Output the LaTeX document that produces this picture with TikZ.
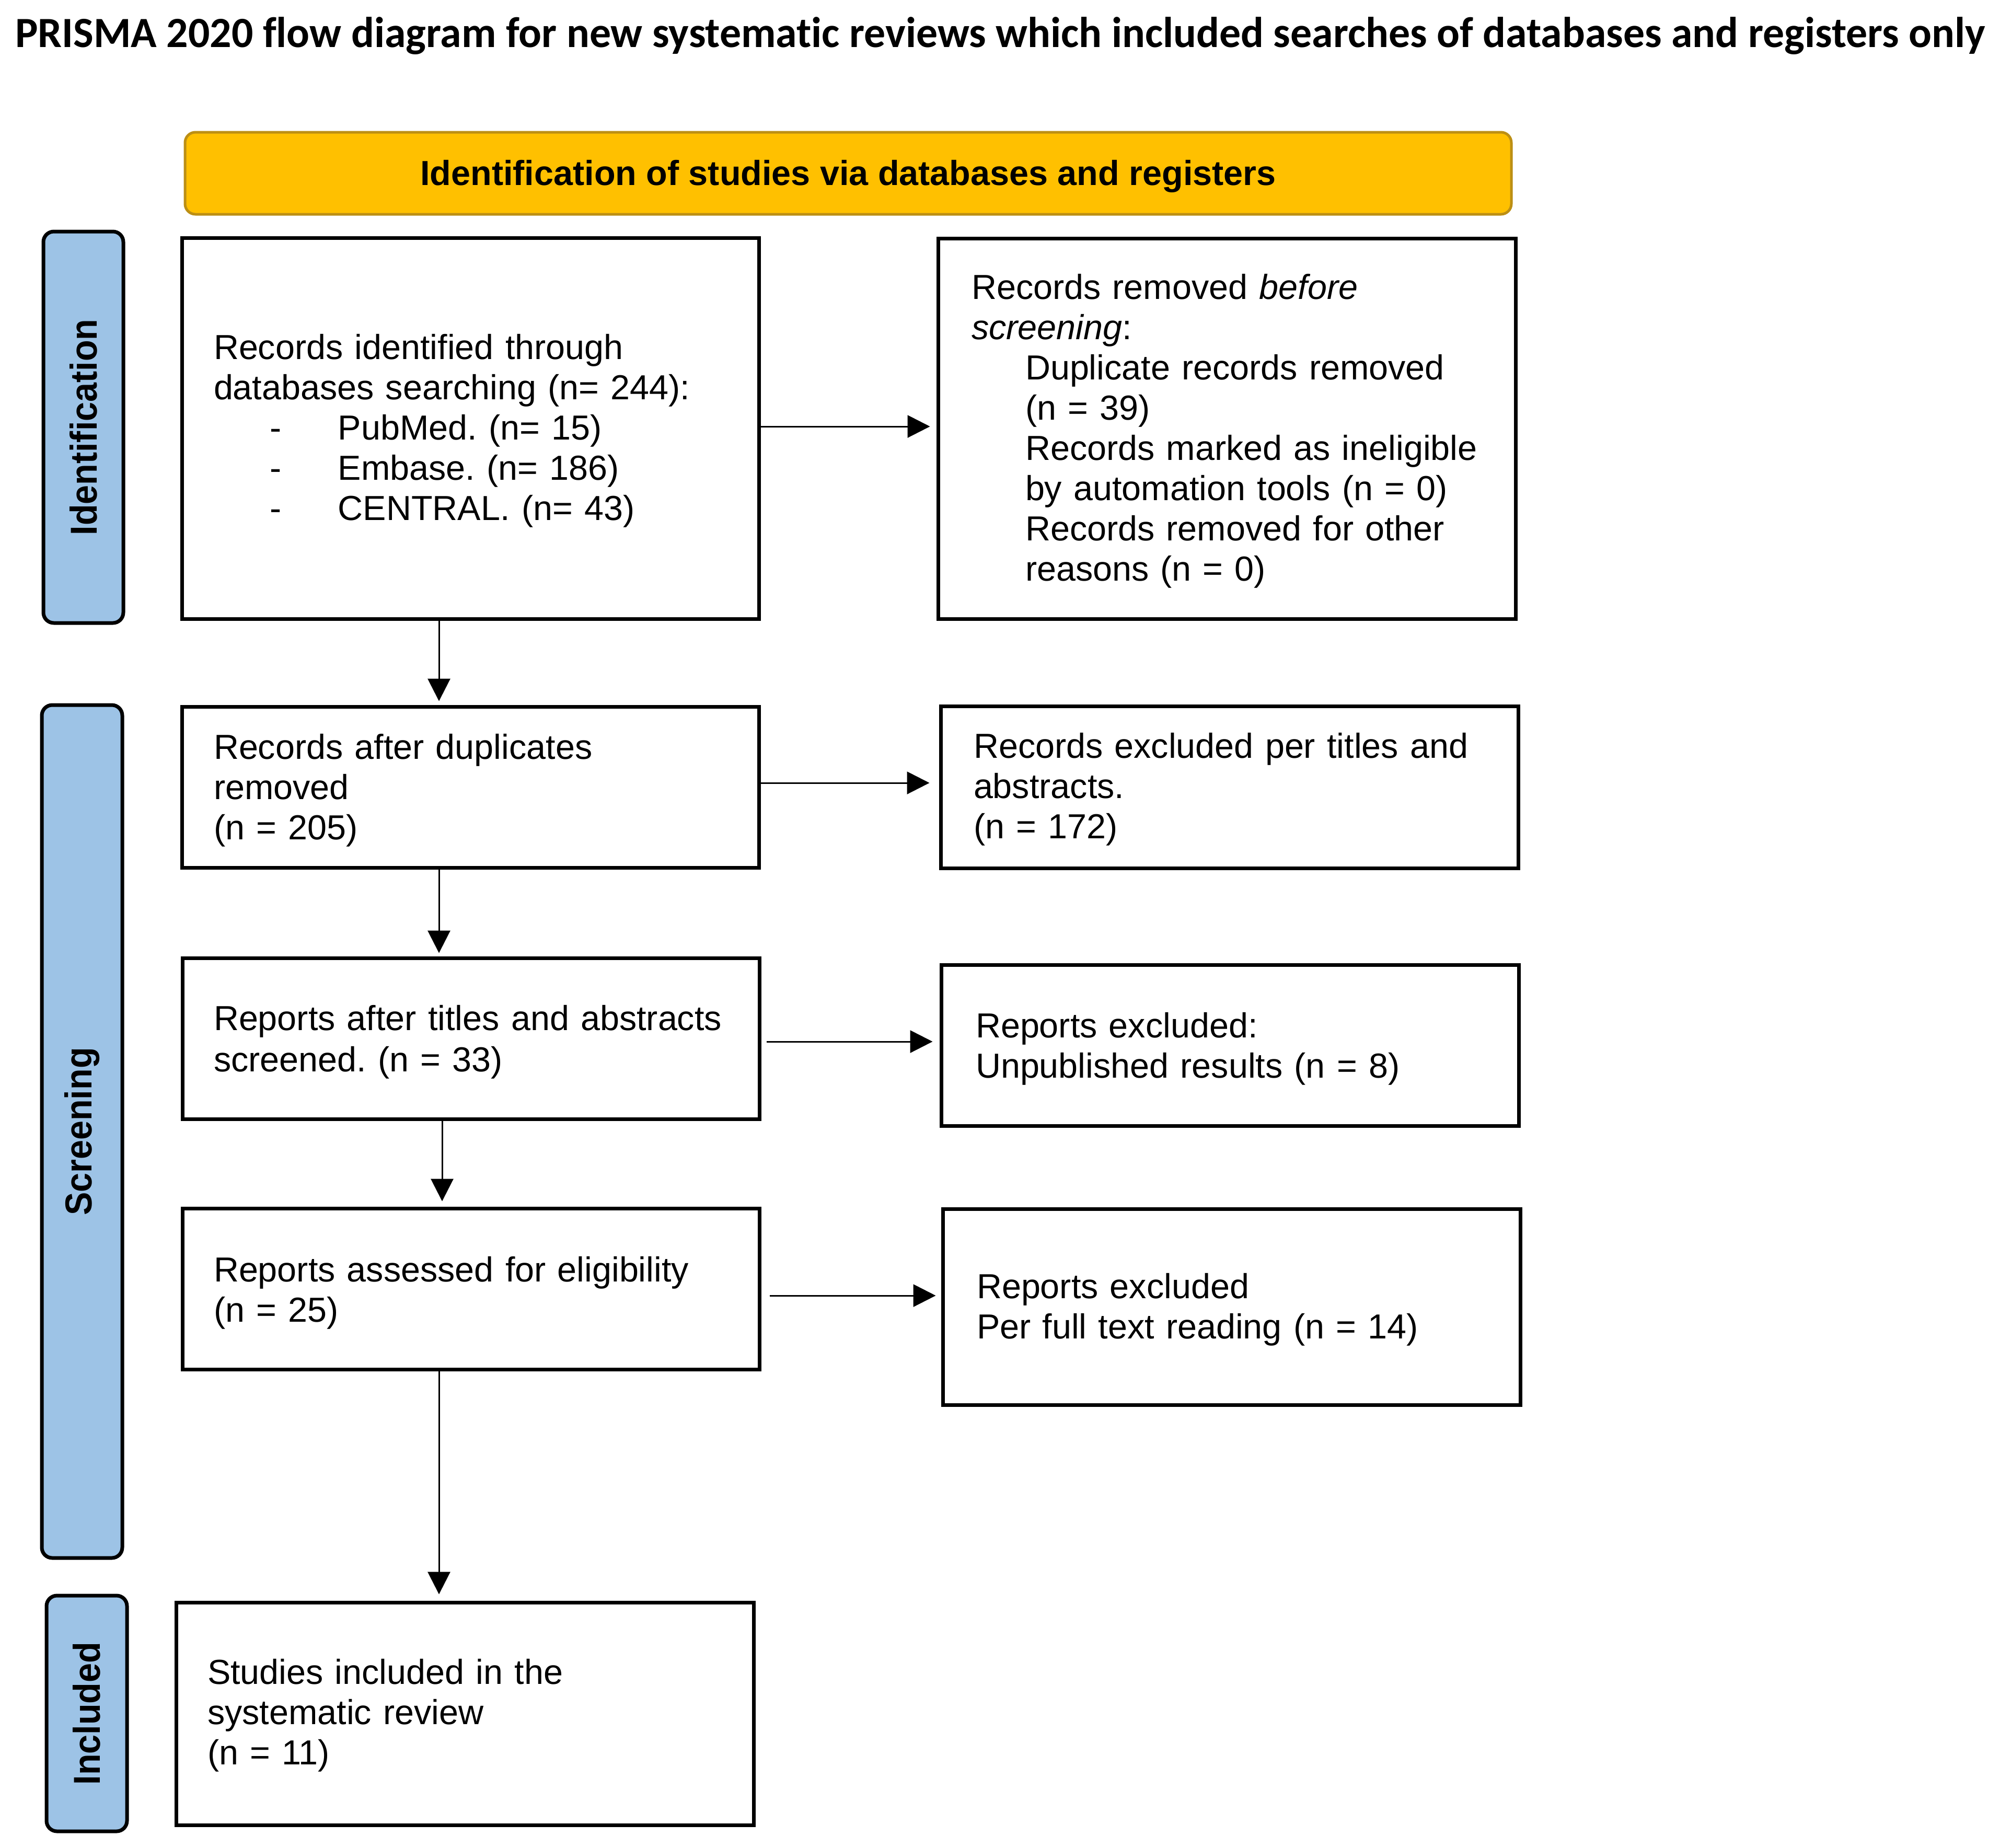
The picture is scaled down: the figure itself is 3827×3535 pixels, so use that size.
\documentclass[tikz,border=0pt]{standalone}
\usepackage{fontspec}
\usepackage{graphicx}
\setmainfont{Liberation Sans}[Ligatures={NoCommon}]
\newfontfamily\titlefont{Carlito}[Ligatures={NoCommon}]
\usetikzlibrary{arrows.meta,calc,fit}
\definecolor{hdrfill}{RGB}{255,192,0}
\definecolor{hdrdraw}{RGB}{188,143,20}
\definecolor{barfill}{RGB}{157,195,230}
\frenchspacing
\begin{document}
\frenchspacing
\begin{tikzpicture}[x=0.2pt,y=-0.2pt,
  box/.style={draw=black,line width=1.4pt,inner sep=0pt,fill=white},
  bar/.style={draw=black,line width=1.4pt,fill=barfill,inner sep=0pt,rounded corners=4pt},
  hdr/.style={draw=hdrdraw,line width=1pt,fill=hdrfill,inner sep=0pt,rounded corners=4pt},
  txt/.style={anchor=base west,inner sep=0pt,align=left,text width=300pt,font=\fontsize{13.3}{15.4}\selectfont\frenchspacing},
  lbl/.style={rotate=90,inner sep=0pt,anchor=center,font=\fontsize{13.3}{15}\selectfont\bfseries},
  arr/.style={line width=0.6pt,-{Triangle[length=8.6pt,width=8.6pt]}},
]
\useasboundingbox (0,0) rectangle (3827,3535);

% title
\node[anchor=base west,inner sep=0pt] (title) at (28,90)
  {\resizebox{754pt}{\height}{\titlefont\bfseries\fontsize{16.5}{18}\selectfont PRISMA 2020 flow diagram for new systematic reviews which included searches of databases and registers only}};

% header
\node[hdr,fit={(354,253) (2892,410)}] (hdr) {};
\node[anchor=base,inner sep=0pt,font=\fontsize{13.3}{15}\selectfont\bfseries] (hdrtxt) at ([yshift=-4.5pt]hdr.center) {Identification of studies via databases and registers};

% side bars
\node[bar,fit={(83,443) (236,1192)}] (barid) {};
\node[lbl] (lblid) at (barid.center) {\scalebox{1}[1.08]{Identification}};
\node[bar,fit={(80,1349) (234,2981)}] (barsc) {};
\node[lbl] (lblsc) at (barsc.center) {\scalebox{1}[1.08]{Screening}};
\node[bar,fit={(89,3053) (243,3504)}] (barin) {};
\node[lbl] (lblin) at (barin.center) {\scalebox{1}[1.08]{Included}};

% boxes
\node[box,fit={(348,455) (1452,1184)}] (b1) {};
\node[box,fit={(1795,456) (2900,1184)}] (b2) {};
\node[box,fit={(348,1352) (1452,1660)}] (b3) {};
\node[box,fit={(1800,1351) (2905,1661)}] (b6) {};
\node[box,fit={(349,1833) (1453,2141)}] (b4) {};
\node[box,fit={(1801,1846) (2906,2154)}] (b7) {};
\node[box,fit={(349,2312) (1453,2620)}] (b5) {};
\node[box,fit={(1804,2313) (2909,2688)}] (b9) {};
\node[box,fit={(337,3066) (1442,3492)}] (b8) {};

% texts
\node[txt] (t1) at (408,687) {Records identified through\\
databases searching (n= 244):\\
\hspace*{21.4pt}\makebox[26.2pt][l]{-}PubMed. (n= 15)\\
\hspace*{21.4pt}\makebox[26.2pt][l]{-}Embase. (n= 186)\\
\hspace*{21.4pt}\makebox[26.2pt][l]{-}CENTRAL. (n= 43)};

\node[txt] (t2) at (1858,572) {Records removed \textit{before}\\
\textit{screening}:\\
\hspace*{20.6pt}Duplicate records removed\\
\hspace*{20.6pt}(n = 39)\\
\hspace*{20.6pt}Records marked as ineligible\\
\hspace*{20.6pt}by automation tools (n = 0)\\
\hspace*{20.6pt}Records removed for other\\
\hspace*{20.6pt}reasons (n = 0)};

\node[txt] (t3) at (408,1452) {Records after duplicates\\ removed\\ (n = 205)};
\node[txt] (t6) at (1862,1450) {Records excluded per titles and\\ abstracts.\\ (n = 172)};
\node[txt,font=\fontsize{13.3}{15.8}\selectfont\frenchspacing] (t4) at (408,1971) {Reports after titles and abstracts\\ screened. (n = 33)};
\node[txt] (t7) at (1866,1985) {Reports excluded:\\ Unpublished results (n = 8)};
\node[txt] (t5) at (408,2452) {Reports assessed for eligibility\\ (n = 25)};
\node[txt] (t9) at (1868,2484) {Reports excluded\\ Per full text reading (n = 14)};
\node[txt] (t8) at (396,3222) {Studies included in the\\ systematic review\\ (n = 11)};

% connectors
\coordinate (vx) at (840,0);
\coordinate (vxb) at (846,0);
\draw[arr,shorten >=1.4pt] (b1.south -| vx) -- (b3.north -| vx);
\draw[arr,shorten >=1.2pt] (b3.south -| vx) -- (b4.north -| vx);
\draw[arr,shorten >=2pt] (b4.south -| vxb) -- (b5.north -| vxb);
\draw[arr,shorten >=2.4pt] (b5.south -| vx) -- (b8.north -| vx);

\draw[arr,shorten >=2.4pt] ([yshift=0.7pt]b1.east) -- ([yshift=0.7pt]b1.east -| b2.west);
\draw[arr,shorten >=3.6pt] ([yshift=1.6pt]b3.east) -- ([yshift=1.6pt]b3.east -| b6.west);
\draw[arr,shorten <=2pt,shorten >=2.6pt] ([yshift=-1.2pt]b4.east) -- ([yshift=-1.2pt]b4.east -| b7.west);
\draw[arr,shorten <=3.2pt,shorten >=2pt] ([yshift=-2.6pt]b5.east) -- ([yshift=-2.6pt]b5.east -| b9.west);
\end{tikzpicture}
\end{document}
